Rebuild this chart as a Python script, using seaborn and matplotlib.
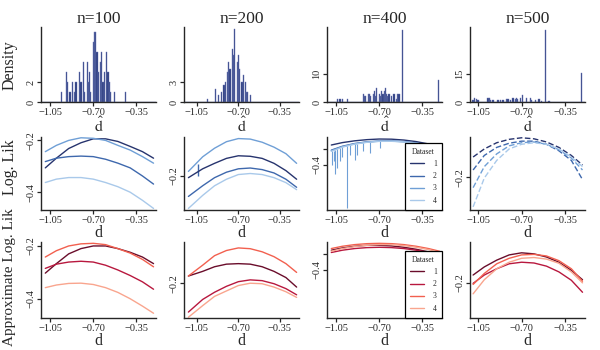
import matplotlib
matplotlib.use('Agg')
import matplotlib.pyplot as plt
import seaborn as sns
import pandas as pd
import numpy as np

sns.set_style('ticks')
plt.rcParams['font.family'] = ['Liberation Serif', 'DejaVu Serif']
plt.rcParams['mathtext.fontset'] = 'stix'

SAMPLE_SIZES = [100, 200, 400, 500]
DATASETS = ['1', '2', '3', '4']
BLUES = ['#27346e', '#3e68ad', '#6f9fd6', '#a9c9ea']
REDS = ['#6a0d2b', '#b8183e', '#f2604f', '#f9a58e']

# histogram of d-hat (bin width 0.01): bin centres and densities
H100_D = [-0.96, -0.92, -0.91, -0.89, -0.87, -0.85, -0.84, -0.81, -0.80, -0.78, -0.77, -0.75, -0.74, -0.73, -0.72,
          -0.70, -0.69, -0.68, -0.67, -0.66, -0.64, -0.63, -0.62, -0.61, -0.59, -0.58, -0.57, -0.56, -0.53, -0.44]
H100_H = [1, 3, 2, 1, 2, 1, 2, 3, 2, 4, 1, 4, 2, 3, 1, 6, 7, 7, 5, 3, 4, 5, 2, 3, 5, 3, 2, 1, 1, 1]
H200_D = [-0.96, -0.89, -0.87, -0.84, -0.82, -0.81, -0.79, -0.78, -0.77, -0.75, -0.74, -0.73, -0.71, -0.70,
          -0.69, -0.67, -0.66, -0.64, -0.63, -0.62, -0.60]
H200_H = [0.5, 2, 1, 1.5, 2.5, 3, 4.5, 6, 5, 8, 7, 11, 6, 7, 5, 3, 4, 3, 1.5, 1.5, 1]
H400_D = [-1.04, -1.02, -1.00, -0.96, -0.83, -0.82, -0.81, -0.79, -0.78, -0.77, -0.75, -0.74, -0.73, -0.72, -0.70,
          -0.69, -0.68, -0.67, -0.66, -0.65, -0.64, -0.63, -0.62, -0.60, -0.58, -0.56, -0.55, -0.54, -0.51, -0.22]
H400_H = [1, 1, 1, 1, 3, 2, 2, 3, 3, 2, 3, 4, 2, 5, 3, 2, 4, 3, 4, 5, 3, 2, 3, 2, 3, 1, 3, 3, 25.7, 8]
H500_D = [-1.09, -1.08, -1.06, -1.05, -0.97, -0.96, -0.95, -0.93, -0.89, -0.87, -0.85, -0.82, -0.81, -0.79, -0.77,
          -0.75, -0.74, -0.73, -0.71, -0.69, -0.66, -0.63, -0.62, -0.59, -0.56, -0.54, -0.51, -0.48, -0.22]
H500_H = [1, 2.2, 1.5, 1, 2, 2, 1, 1, 1, 1, 1, 1.5, 1.5, 1, 2, 1.5, 2, 1.5, 2, 4, 2, 2, 1, 1, 1.5, 0.5, 38.6, 0.5, 15.4]

# grid of d values for the likelihood curves
D_GRID = [-1.09, -1.0, -0.9, -0.8, -0.7, -0.6, -0.5, -0.4, -0.3, -0.21]
D_GRID_200 = [-1.12, -1.0, -0.9, -0.8, -0.7, -0.6, -0.5, -0.4, -0.3, -0.21]

# Log. Lik (datasets 1..4)
LL_100 = [[-0.306, -0.269, -0.232, -0.210, -0.195, -0.195, -0.205, -0.224, -0.244, -0.269],
          [-0.282, -0.269, -0.263, -0.261, -0.263, -0.273, -0.288, -0.306, -0.337, -0.368],
          [-0.244, -0.220, -0.201, -0.191, -0.193, -0.201, -0.220, -0.238, -0.263, -0.288],
          [-0.362, -0.349, -0.343, -0.343, -0.349, -0.362, -0.378, -0.399, -0.430, -0.461]]
LL_200 = [[-0.206, -0.172, -0.151, -0.132, -0.122, -0.124, -0.132, -0.151, -0.179, -0.212],
          [-0.278, -0.237, -0.206, -0.185, -0.172, -0.169, -0.175, -0.188, -0.212, -0.243],
          [-0.182, -0.126, -0.093, -0.068, -0.056, -0.058, -0.070, -0.089, -0.114, -0.151],
          [-0.324, -0.274, -0.237, -0.212, -0.194, -0.190, -0.194, -0.206, -0.225, -0.252]]
LL_400 = [[-0.149, -0.118, -0.095, -0.080, -0.072, -0.074, -0.085, -0.105, -0.135, -0.175],
          [-0.215, -0.165, -0.130, -0.108, -0.098, -0.097, -0.105, -0.122, -0.150, -0.190],
          [-0.222, -0.170, -0.134, -0.111, -0.100, -0.099, -0.107, -0.125, -0.154, -0.195],
          [-0.230, -0.176, -0.138, -0.114, -0.102, -0.101, -0.109, -0.128, -0.158, -0.200]]
LL_500 = [[-0.122, -0.091, -0.067, -0.054, -0.048, -0.052, -0.064, -0.085, -0.116, -0.153],
          [-0.172, -0.116, -0.085, -0.069, -0.061, -0.061, -0.073, -0.098, -0.135, -0.209],
          [-0.240, -0.159, -0.110, -0.079, -0.067, -0.064, -0.073, -0.094, -0.126, -0.172],
          [-0.314, -0.203, -0.135, -0.091, -0.073, -0.067, -0.073, -0.091, -0.122, -0.159]]
# numerical drop-outs in the n=400 log-likelihood
SPIKE_D = [-1.085, -1.072, -1.058, -1.045, -1.023, -1.004, -0.964, -0.937, -0.897, -0.884, -0.83, -0.776, -0.695]
SPIKE_TOP = [-0.23, -0.22, -0.21, -0.20, -0.19, -0.18, -0.165, -0.155, -0.14, -0.135, -0.12, -0.11, -0.10]
SPIKE_LOW = [-0.40, -0.36, -0.52, -0.44, -0.36, -0.30, -0.96, -0.28, -0.34, -0.28, -0.23, -0.25, -0.19]
# small jump in dataset 1 of n=200
KINK_D = [-1.04]
KINK_TOP = [-0.155]
KINK_LOW = [-0.200]

# Approximate Log. Lik (datasets 1..4)
AL_100 = [[-0.303, -0.267, -0.230, -0.210, -0.200, -0.200, -0.210, -0.224, -0.242, -0.267],
          [-0.285, -0.269, -0.261, -0.258, -0.261, -0.273, -0.291, -0.312, -0.336, -0.364],
          [-0.242, -0.218, -0.200, -0.192, -0.190, -0.195, -0.210, -0.227, -0.251, -0.279],
          [-0.358, -0.348, -0.342, -0.341, -0.346, -0.358, -0.376, -0.400, -0.428, -0.455]]
AL_200 = [[-0.172, -0.154, -0.136, -0.126, -0.124, -0.126, -0.136, -0.154, -0.178, -0.215],
          [-0.312, -0.263, -0.235, -0.212, -0.194, -0.187, -0.190, -0.202, -0.221, -0.245],
          [-0.172, -0.130, -0.093, -0.073, -0.063, -0.066, -0.078, -0.097, -0.124, -0.158],
          [-0.332, -0.287, -0.251, -0.230, -0.209, -0.200, -0.202, -0.215, -0.233, -0.255]]
AL_400 = [[-0.150, -0.121, -0.100, -0.088, -0.088, -0.096, -0.113, -0.138, -0.171, -0.213],
          [-0.179, -0.150, -0.129, -0.117, -0.113, -0.117, -0.129, -0.150, -0.179, -0.221],
          [-0.129, -0.100, -0.079, -0.067, -0.063, -0.067, -0.079, -0.100, -0.129, -0.163],
          [-0.163, -0.129, -0.104, -0.088, -0.079, -0.079, -0.092, -0.113, -0.142, -0.179]]
AL_500 = [[-0.170, -0.139, -0.113, -0.093, -0.085, -0.089, -0.101, -0.121, -0.152, -0.188],
          [-0.202, -0.170, -0.146, -0.127, -0.121, -0.124, -0.136, -0.158, -0.190, -0.236],
          [-0.206, -0.164, -0.127, -0.106, -0.093, -0.091, -0.097, -0.115, -0.146, -0.194],
          [-0.242, -0.188, -0.146, -0.121, -0.106, -0.103, -0.109, -0.125, -0.158, -0.200]]

HISTS = [(H100_D, H100_H), (H200_D, H200_H), (H400_D, H400_H), (H500_D, H500_H)]
LOGLIK = [LL_100, LL_200, LL_400, LL_500]
APPROX = [AL_100, AL_200, AL_400, AL_500]
GRIDS = [D_GRID, D_GRID_200, D_GRID, D_GRID]

# layout (pixels of a 600x350 canvas)
W, H = 600, 350
LEFTS = [41, 184, 327, 470]
AX_W = 115
ROWS = [(27, 102), (137, 210), (242, 318)]
XLIMS = [(-1.125, -0.19), (-1.157, -0.19), (-1.125, -0.19), (-1.115, -0.19)]
HIST_YLIM = [7.5, 11.25, 26.8, 40.2]
HIST_TICKS = [[0, 2], [0, 3], [0, 10], [0, 15]]
LL_YLIM = [(-0.467, -0.188), (-0.33, -0.05), (-0.984, -0.046), (-0.326, -0.045)]
AL_YLIM = [(-0.473, -0.185), (-0.335, -0.04), (-1.009, -0.046), (-0.3345, -0.0436)]
CURVE_TICKS = [[-0.4, -0.2], [-0.2], [-0.4, -0.2], [-0.2]]
XTICKS = [-1.05, -0.70, -0.35]
EDGES = [round(-1.165 + 0.01 * i, 3) for i in range(99)]

fig = plt.figure(figsize=(6, 3.5), dpi=100)


def make_ax(row, col):
    top, bottom = ROWS[row]
    ax = fig.add_axes([LEFTS[col] / W, 1 - bottom / H, AX_W / W, (bottom - top) / H])
    return ax


def style(ax, col, yticks, ylabels):
    sns.despine(ax=ax)
    for s in ['left', 'bottom']:
        ax.spines[s].set_color('#262626')
        ax.spines[s].set_linewidth(1.0)
    ax.set_xlim(XLIMS[col])
    ax.set_xticks(XTICKS)
    ax.set_xticklabels(['\u22121.05', '\u22120.70', '\u22120.35'])
    ax.set_yticks(yticks)
    ax.set_yticklabels(ylabels, rotation=90, va='center')
    ax.tick_params(length=3, width=0.9, labelsize=7.5, pad=1.2, color='#262626')
    ax.set_ylabel('')


def fmt(v):
    return ('%g' % v).replace('-', '\u2212')


for col, n in enumerate(SAMPLE_SIZES):
    # row 1: histograms
    ax = make_ax(0, col)
    hd, hh = HISTS[col]
    hist_df = pd.DataFrame({'d': hd, 'density': hh})
    sns.histplot(data=hist_df, x='d', weights='density', bins=EDGES, color='#2b3c7e',
                 edgecolor='#6a78b4', linewidth=0.3, alpha=1, ax=ax)
    ax.set_ylim(0, HIST_YLIM[col])
    style(ax, col, HIST_TICKS[col], [str(t) for t in HIST_TICKS[col]])
    ax.set_xlabel(r'$\hat{\mathrm{d}}$', fontsize=11.5, labelpad=0)
    ax.set_title(f'n={n}', fontsize=12.5, pad=3)

    # rows 2 and 3: likelihood curves
    for row, (curves, pal, ylim) in enumerate([(LOGLIK[col], BLUES, LL_YLIM[col]),
                                               (APPROX[col], REDS, AL_YLIM[col])], start=1):
        ax = make_ax(row, col)
        grid = GRIDS[col]
        df = pd.DataFrame({
            'd': grid * 4,
            'value': sum(curves, []),
            'Dataset': [k for k in DATASETS for _ in grid],
        })
        dash = (0, (4, 1.8)) if (col == 3 and row == 1) else '-'
        if col == 2 and row == 1:
            ax.vlines(SPIKE_D, SPIKE_LOW, SPIKE_TOP, color=BLUES[2], linewidth=0.8)
        if col == 1 and row == 1:
            ax.vlines(KINK_D, KINK_LOW, KINK_TOP, color=BLUES[1], linewidth=1.0)
        sns.lineplot(data=df, x='d', y='value', hue='Dataset', palette=pal, estimator=None,
                     sort=False, linewidth=1.0, linestyle=dash, ax=ax, legend=(col == 2))
        ax.set_ylim(ylim)
        ticks = CURVE_TICKS[col]
        labels = [fmt(t) for t in ticks]
        if col == 2:
            labels = [fmt(ticks[0]), '']
        style(ax, col, ticks, labels)
        ax.set_xlabel('d', fontsize=11.5, labelpad=0)
        if col == 2:
            handles, labs = ax.get_legend_handles_labels()
            leg = ax.legend(handles, labs, title='Dataset', loc='lower right', fontsize=5.5,
                            title_fontsize=5.5, frameon=True, fancybox=False, framealpha=1,
                            edgecolor='black', borderaxespad=0, handlelength=1.8,
                            handletextpad=1.2, borderpad=0.7, labelspacing=0.55)
            leg.get_frame().set_linewidth(0.9)
            for line in leg.get_lines():
                line.set_linestyle('-')

fig.text(10 / W, 1 - 65 / H, 'Density', rotation=90, ha='center', va='center', fontsize=11.5)
fig.text(10 / W, 1 - 167 / H, 'Log. Lik', rotation=90, ha='center', va='center', fontsize=11.5)
fig.text(10 / W, 1 - 277 / H, 'Approximate Log. Lik', rotation=90, ha='center', va='center', fontsize=11)

fig.savefig('out.png', dpi=100)
